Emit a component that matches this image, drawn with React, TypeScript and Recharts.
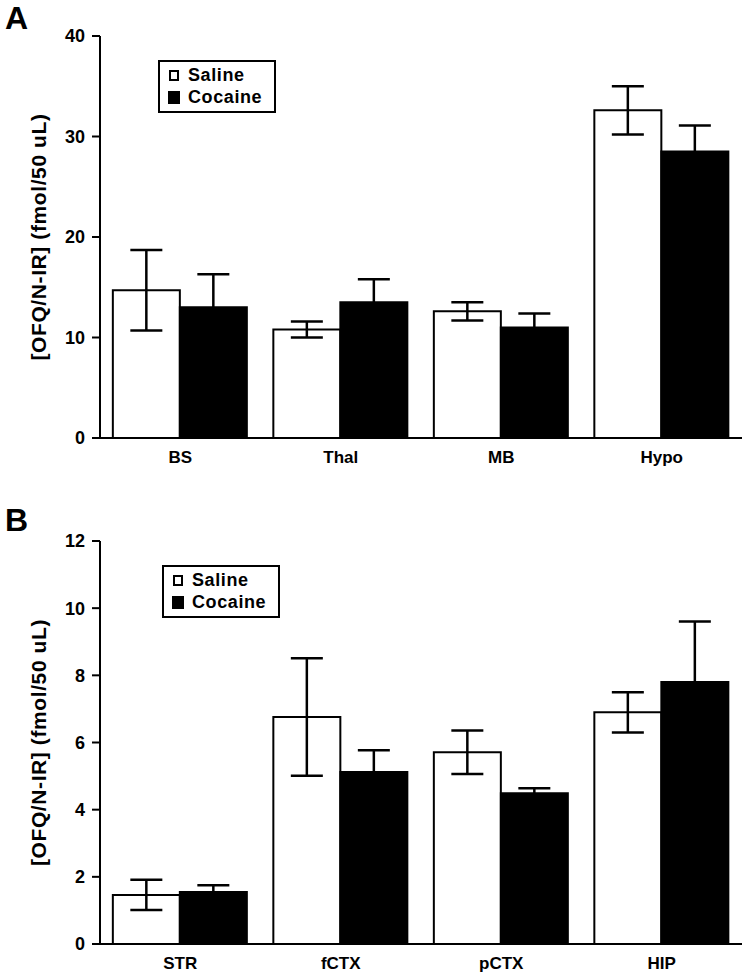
import React from 'react';
import { BarChart, Bar, XAxis, YAxis, ErrorBar } from 'recharts';

const topCategories = ['BS', 'Thal', 'MB', 'Hypo'];
const topSaline = [14.7, 10.8, 12.6, 32.6];
const topSalineErr = [4.0, 0.8, 0.9, 2.4];
const topCocaine = [13.0, 13.5, 11.0, 28.5];
const topCocaineErr = [3.3, 2.3, 1.4, 2.6];
const topTicks = [0, 10, 20, 30, 40];

const bottomCategories = ['STR', 'fCTX', 'pCTX', 'HIP'];
const bottomSaline = [1.46, 6.76, 5.71, 6.9];
const bottomSalineErr = [0.45, 1.75, 0.65, 0.6];
const bottomCocaine = [1.55, 5.12, 4.49, 7.8];
const bottomCocaineErr = [0.2, 0.65, 0.15, 1.8];
const bottomTicks = [0, 2, 4, 6, 8, 10, 12];

const FONT = '"Liberation Sans", Arial, sans-serif';
const yLabelText = '[OFQ/N-IR] (fmol/50 uL)';
const legendLabels = ['Saline', 'Cocaine'];

function build(cats: string[], s: number[], se: number[], c: number[], ce: number[]) {
  return cats.map((name, i) => ({ name, saline: s[i], salineErr: se[i], cocaine: c[i], cocaineErr: ce[i] }));
}

const topData = build(topCategories, topSaline, topSalineErr, topCocaine, topCocaineErr);
const bottomData = build(bottomCategories, bottomSaline, bottomSalineErr, bottomCocaine, bottomCocaineErr);

const LegendBox = ({ left, top }: { left: number; top: number }) => (
  <div
    style={{
      position: 'absolute',
      left,
      top,
      width: 118,
      height: 53,
      boxSizing: 'border-box',
      border: '2px solid #000',
      background: '#fff',
      padding: '2px 0 0 8px',
      fontFamily: FONT,
      fontWeight: 'bold',
      fontSize: 18,
      lineHeight: '22px',
      letterSpacing: 0.6,
      color: '#000',
    }}
  >
    <div style={{ display: 'flex', alignItems: 'center', height: 22 }}>
      <span style={{ display: 'inline-block', boxSizing: 'border-box', width: 10, height: 11, border: '2px solid #000', background: '#fff', marginRight: 9, marginLeft: 1 }} />
      {legendLabels[0]}
    </div>
    <div style={{ display: 'flex', alignItems: 'center', height: 22 }}>
      <span style={{ display: 'inline-block', width: 12, height: 13, background: '#000', marginRight: 8 }} />
      {legendLabels[1]}
    </div>
  </div>
);

const YLabel = (props: any) => {
  const vb = props.viewBox || {};
  const cy = (vb.y || 0) + (vb.height || 0) / 2;
  return (
    <text
      x={38}
      y={cy}
      transform={`rotate(-90, 38, ${cy})`}
      textAnchor="middle"
      dominantBaseline="central"
      fontFamily={FONT}
      fontWeight="bold"
      fontSize={21}
      letterSpacing={0.6}
      fill="#000"
    >
      {yLabelText}
    </text>
  );
};

type PanelProps = {
  data: any[];
  ticks: number[];
  max: number;
  height: number;
  marginTop: number;
  marginBottom: number;
};

const Panel = ({ data, ticks, max, height, marginTop, marginBottom }: PanelProps) => (
  <BarChart
    width={750}
    height={height}
    data={data}
    margin={{ top: marginTop, right: 8, bottom: marginBottom, left: 0 }}
    barGap={0}
    barCategoryGap="8%"
  >
    <XAxis
      dataKey="name"
      axisLine={{ stroke: '#000', strokeWidth: 2 }}
      tickLine={false}
      tickSize={6}
      tickMargin={7}
      height={30}
      tick={{ fill: '#000', fontFamily: FONT, fontSize: 17, fontWeight: 'bold' }}
    />
    <YAxis
      width={100}
      domain={[0, max]}
      ticks={ticks}
      interval={0}
      axisLine={{ stroke: '#000', strokeWidth: 2 }}
      tickLine={{ stroke: '#000', strokeWidth: 2 }}
      tickSize={8}
      tickMargin={7}
      tick={{ fill: '#000', fontFamily: FONT, fontSize: 18, fontWeight: 'bold' }}
      label={{ content: YLabel }}
    />
    <Bar dataKey="saline" fill="#fff" stroke="#000" strokeWidth={2} isAnimationActive={false}>
      <ErrorBar dataKey="salineErr" width={16} stroke="#000" strokeWidth={2.5} />
    </Bar>
    <Bar dataKey="cocaine" fill="#000" stroke="#000" strokeWidth={2} isAnimationActive={false}>
      <ErrorBar dataKey="cocaineErr" width={16} stroke="#000" strokeWidth={2.5} />
    </Bar>
  </BarChart>
);

export default function App() {
  return (
    <div style={{ position: 'absolute', left: 0, top: 0, width: 750, height: 976, background: '#fff' }}>
      <div style={{ position: 'absolute', left: 0, top: 0 }}>
        <Panel data={topData} ticks={topTicks} max={40} height={480} marginTop={36} marginBottom={12} />
      </div>
      <div style={{ position: 'absolute', left: 0, top: 500 }}>
        <Panel data={bottomData} ticks={bottomTicks} max={12} height={476} marginTop={41} marginBottom={2} />
      </div>
      <LegendBox left={158} top={60} />
      <LegendBox left={162} top={565} />
      <div style={{ position: 'absolute', left: 5, top: 2, fontFamily: FONT, fontWeight: 'bold', fontSize: 32, lineHeight: '32px', color: '#000' }}>A</div>
      <div style={{ position: 'absolute', left: 5, top: 504, fontFamily: FONT, fontWeight: 'bold', fontSize: 32, lineHeight: '32px', color: '#000' }}>B</div>
    </div>
  );
}
